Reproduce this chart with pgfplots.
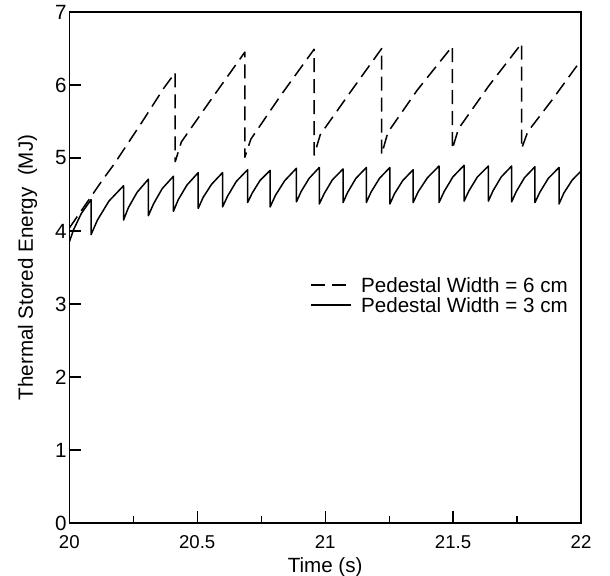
\documentclass[border=0pt]{standalone}
\usepackage{fontspec}
\setmainfont{Liberation Sans}
\usepackage{pgfplots}
\usepackage{pgfplotstable}
\pgfplotsset{compat=1.18}
\pgfplotstableread{
t E
20.000 3.85
20.017 4.02
20.047 4.24
20.085 4.43
20.085 3.95
20.110 4.15
20.155 4.41
20.212 4.62
20.212 4.15
20.231 4.32
20.265 4.53
20.309 4.71
20.309 4.21
20.329 4.37
20.363 4.58
20.407 4.75
20.407 4.27
20.426 4.43
20.460 4.63
20.504 4.80
20.504 4.31
20.523 4.46
20.556 4.64
20.599 4.80
20.599 4.33
20.619 4.48
20.653 4.68
20.697 4.84
20.697 4.39
20.715 4.52
20.745 4.69
20.785 4.83
20.785 4.33
20.806 4.49
20.842 4.69
20.888 4.86
20.888 4.40
20.906 4.54
20.937 4.72
20.977 4.87
20.977 4.37
20.996 4.51
21.028 4.70
21.070 4.85
21.070 4.39
21.088 4.53
21.120 4.72
21.161 4.87
21.161 4.39
21.179 4.53
21.212 4.72
21.253 4.87
21.253 4.37
21.271 4.51
21.303 4.69
21.344 4.84
21.344 4.39
21.364 4.54
21.400 4.73
21.445 4.89
21.445 4.39
21.465 4.54
21.499 4.74
21.543 4.90
21.543 4.41
21.562 4.55
21.595 4.74
21.638 4.89
21.638 4.41
21.656 4.55
21.688 4.74
21.729 4.89
21.729 4.40
21.747 4.54
21.779 4.73
21.820 4.88
21.820 4.39
21.839 4.53
21.872 4.72
21.914 4.87
21.914 4.37
21.933 4.52
21.966 4.70
22.000 4.82
}\threecm
\pgfplotstableread{
t E
20.000 4.04
20.130 4.70
20.176 4.92
20.280 5.47
20.370 5.96
20.414 6.17
20.414 4.95
20.438 5.22
20.550 5.78
20.686 6.45
20.686 5.01
20.710 5.26
20.827 5.86
20.957 6.49
20.957 5.04
20.981 5.32
21.100 5.91
21.221 6.50
21.221 5.05
21.245 5.35
21.360 5.93
21.497 6.53
21.497 5.12
21.521 5.40
21.640 5.99
21.768 6.57
21.768 5.13
21.792 5.36
21.888 5.80
22.000 6.34
}\sixcm
\begin{document}
\begin{tikzpicture}
\begin{axis}[
  at={(0,0)}, anchor=south west,
  scale only axis, width=255.85bp, height=255.5bp,
  xmin=20, xmax=22, ymin=0, ymax=7,
  xtick={20,20.5,21,21.5,22},
  xticklabels={20,20.5,21,21.5,22},
  minor xtick={20.25,20.75,21.25,21.75},
  ytick={0,1,2,3,4,5,6,7},
  tick pos=left, tick align=inside,
  major tick length=6bp, minor tick length=3.4bp,
  axis line style={line width=0.7bp},
  every tick/.style={black, line width=0.6bp},
  /pgf/number format/assume math mode=true,
  xticklabel style={font=\fontsize{9.3bp}{11bp}\selectfont, yshift=-2.9bp},
  yticklabel style={font=\fontsize{10.3bp}{12bp}\selectfont, xshift=2.2bp},
  xlabel={Time (s)},
  ylabel={Thermal Stored Energy\ \ (MJ)},
  xlabel style={at={(axis description cs:0.5,-0.087)}, anchor=center, font=\fontsize{10.3bp}{12bp}\selectfont},
  ylabel style={at={(axis description cs:-0.0817,0.5)}, anchor=center, font=\fontsize{10.3bp}{12bp}\selectfont},
  legend style={draw=none, fill=none, at={(axis description cs:0.471,0.486)}, anchor=north west,
    inner sep=0pt, outer sep=0pt, row sep=0pt, column sep=3.3bp,
    font=\fontsize{10.3bp}{12bp}\selectfont,
    nodes={inner sep=1.35bp, text height=7.4bp, text depth=0bp}},
  legend cell align=left,
  legend image code/.code={\draw[#1] (0bp,0bp) -- (20bp,0bp);},
]
\addplot[black, line width=0.75bp, line join=round, dash pattern=on 7bp off 3.5bp] table[x=t,y=E] {\sixcm};
\addlegendentry{Pedestal Width = 6 cm}
\addplot[black, line width=0.75bp, line join=round] table[x=t,y=E] {\threecm};
\addlegendentry{Pedestal Width = 3 cm}
\end{axis}
\pgfresetboundingbox
\path (-34.65bp,-26.5bp) rectangle (270.35bp,261.5bp);
\end{tikzpicture}
\end{document}
